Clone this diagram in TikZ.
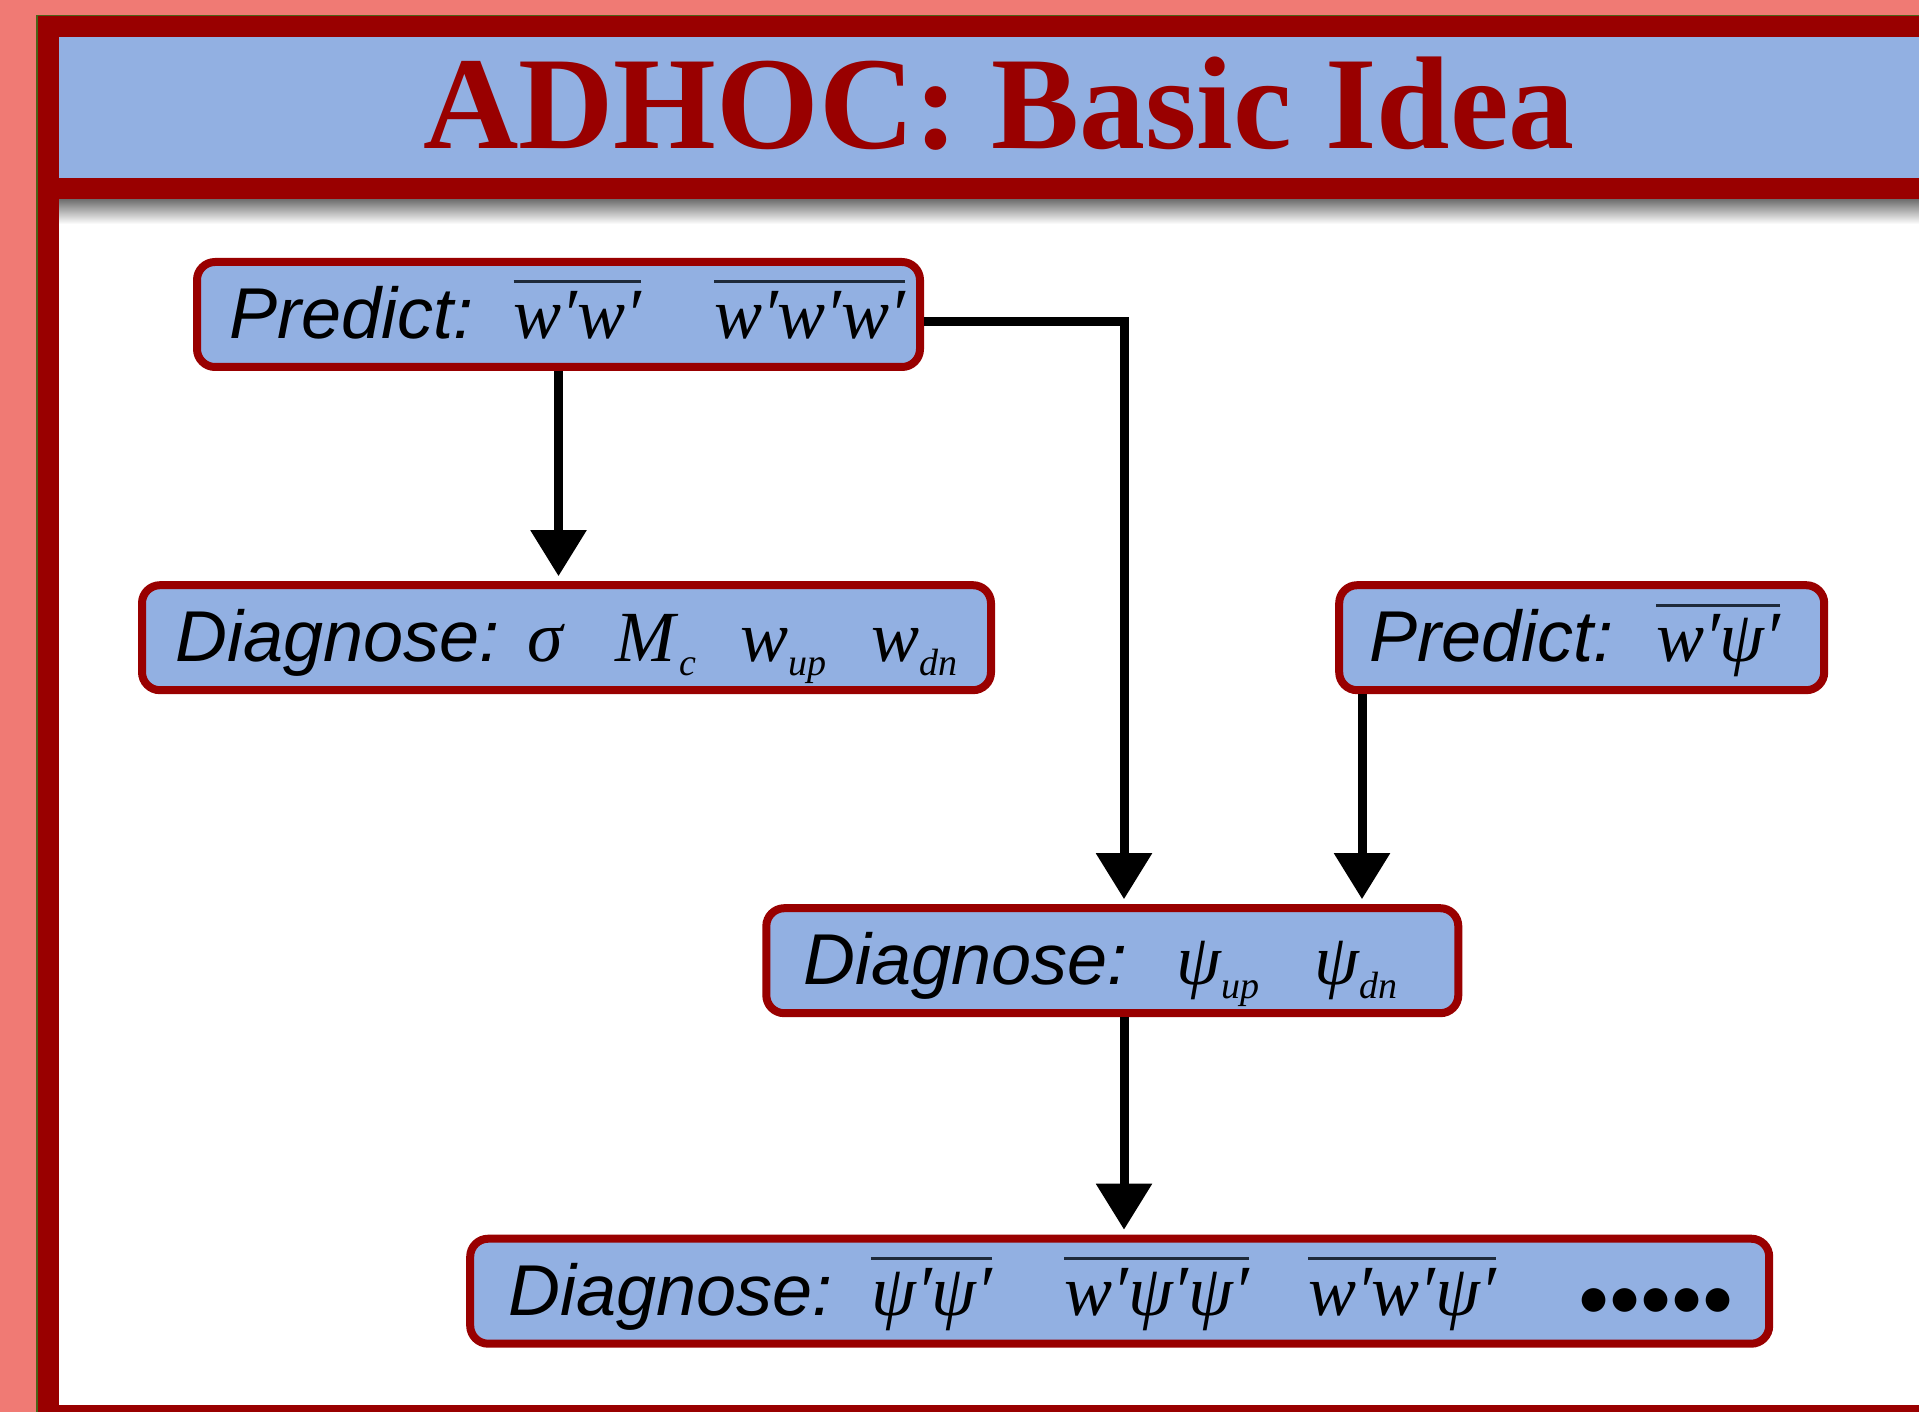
\documentclass[tikz,border=0pt]{standalone}
\usepackage{fontspec}
\setmainfont{Liberation Sans}
\newfontfamily\tms{Liberation Serif}
\newfontfamily\djv{DejaVu Sans}
\usetikzlibrary{arrows.meta,calc}
\definecolor{bgpink}{HTML}{F07A74}
\definecolor{dred}{HTML}{990000}
\definecolor{lblue}{HTML}{92B0E2}
\definecolor{ogreen}{HTML}{4A6418}
\definecolor{barc}{HTML}{1E2A3A}
\newcommand\ov[1]{\vbox{{\color{barc}\hrule height 3pt}\kern 8pt\hbox{#1}}}
\newcommand\mv[1]{{\tms\itshape #1}}
\newcommand\pr{{\tms\itshape ′}}
\newcommand\sbs[1]{\raisebox{-14pt}{\fontsize{38}{38}\selectfont\tms\itshape #1}}
\newcommand\dt{{\djv ●}}
\begin{document}
\begin{tikzpicture}[x=1pt,y=-1pt,
  box/.style={draw=dred, fill=lblue, line width=8pt, rounded corners=18pt,
    minimum height=105pt, inner sep=0pt, text height=62pt, text depth=14pt,
    font=\fontsize{72}{72}\selectfont\itshape},
  arr/.style={line width=9pt, -{Triangle[width=54pt,length=46pt]}, shorten >=5pt}]
\useasboundingbox (0,0) rectangle (1919,1412);
% frame
\fill[bgpink] (0,0) rectangle (1919,1412);
\fill[dred] (36,15) rectangle (1919,1412);
\fill[white] (59,200) rectangle (1919,1405);
\shade[top color=black!55, bottom color=white] (59,200) rectangle (1919,224);
\fill[lblue] (59,37) rectangle (1919,178);
\draw[ogreen, line width=1.5pt] (36.75,1412) -- (36.75,15.75) -- (1919,15.75);
% title
\node[text=dred, font=\tms\bfseries\fontsize{132}{132}\selectfont, inner sep=0pt] (title) at (999,104) {ADHOC: Basic Idea};
% helper x coordinates
\coordinate (xc) at (1124,0);
\coordinate (x3) at (1362,0);
% boxes
\node[box, minimum width=723pt] (b1) at (558.5,314.5)
  {\hspace*{18pt}Predict:\hspace{40pt}\ov{\mv{w}\pr\mv{w}\pr}\hspace{73pt}\ov{\mv{w}\pr\mv{w}\pr\mv{w}\pr}};
\node[box, minimum width=849pt] (b2) at (566.5,637.7)
  {Diagnose:\hspace{28pt}{\tms σ}\hspace{53pt}\mv{M}\hspace{4pt}\sbs{c}\hspace{44pt}\mv{w}\sbs{up}\hspace{45pt}\mv{w}\sbs{dn}};
\node[box, minimum width=485pt] (b3) at (1581.7,637.7)
  {Predict:\hspace{43pt}\ov{\mv{w}\pr\mv{ψ}\pr}\hspace*{14pt}};
\node[box, minimum width=692pt] (b4) at (1112.3,960.7)
  {Diagnose:\hspace{49pt}\mv{ψ}\sbs{up}\hspace{55pt}\mv{ψ}\sbs{dn}\hspace*{24pt}};
\node[box, minimum width=1299pt] (b5) at (1119.7,1291.2)
  {Diagnose:\hspace{39pt}\ov{\mv{ψ}\pr\mv{ψ}\pr}\hspace{72pt}\ov{\mv{w}\pr\mv{ψ}\pr\mv{ψ}\pr}\hspace{59pt}\ov{\mv{w}\pr\mv{w}\pr\mv{ψ}\pr}\hspace{84pt}\raisebox{7pt}{\upshape\fontsize{31}{31}\selectfont\dt\hspace{4pt}\dt\hspace{4pt}\dt\hspace{4pt}\dt\hspace{4pt}\dt}};
% connectors
\draw[arr] (b1.south) -- (b1.south |- b2.north);
\draw[arr] ([yshift=-7pt]b1.east) -| (b4.north -| xc);
\draw[arr] (b3.south -| x3) -- (b4.north -| x3);
\draw[arr] (b4.south -| xc) -- (b5.north -| xc);
\end{tikzpicture}
\end{document}
